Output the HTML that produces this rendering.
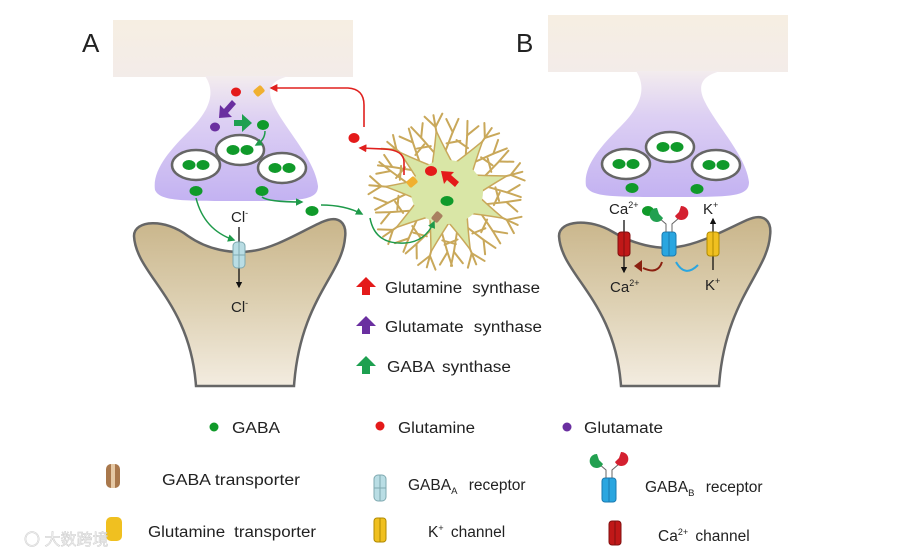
<!DOCTYPE html>
<html><head><meta charset="utf-8"><style>
html,body{margin:0;padding:0;background:#fff;width:900px;height:556px;overflow:hidden}
svg text{font-family:"Liberation Sans",Arial,sans-serif;fill:#222}
</style></head><body>
<svg width="900" height="556" viewBox="0 0 900 556" xmlns="http://www.w3.org/2000/svg">
<defs>
<linearGradient id="top" x1="0" y1="0" x2="0" y2="1"><stop offset="0" stop-color="#f6eee2"/><stop offset="1" stop-color="#f3ece9"/></linearGradient>
<linearGradient id="pur" x1="0" y1="0" x2="0" y2="1"><stop offset="0" stop-color="#f3ecee"/><stop offset="0.35" stop-color="#ddd0f3"/><stop offset="1" stop-color="#c3b2f2"/></linearGradient>
<linearGradient id="post" x1="0" y1="0" x2="0" y2="1"><stop offset="0" stop-color="#c9b58a"/><stop offset="0.5" stop-color="#ddd0b2"/><stop offset="1" stop-color="#f3ece0"/></linearGradient>
<marker id="ar" viewBox="0 0 10 10" refX="8" refY="5" markerWidth="5" markerHeight="5" orient="auto"><path d="M0,0 L10,5 L0,10 z" fill="#e0201e"/></marker>
<marker id="ag" viewBox="0 0 10 10" refX="8" refY="5" markerWidth="5" markerHeight="5" orient="auto"><path d="M0,0 L10,5 L0,10 z" fill="#1e9a4a"/></marker>
<marker id="ak" viewBox="0 0 10 10" refX="8" refY="5" markerWidth="5" markerHeight="5" orient="auto"><path d="M0,0 L10,5 L0,10 z" fill="#111"/></marker>
<g id="arm">
<g stroke="#c9a85a" stroke-width="2" fill="none" stroke-linecap="round">
<path d="M55,0 L78,0"/><path d="M38,-4 L58,-16 L70,-24"/><path d="M38,4 L58,16 L70,24"/>
<path d="M58,-16 L72,-12"/><path d="M58,16 L72,12"/><path d="M66,0 L78,-9"/><path d="M66,0 L78,9"/>
<path d="M48,-8 L48,-22"/><path d="M48,8 L48,22"/></g>
<path d="M20,-13 Q40,-6 62,0 Q40,6 20,13 Z" fill="#d9e6a6" stroke="#c9a85a" stroke-width="1.5"/>
</g>
<g id="ves"><ellipse rx="24" ry="15" fill="#fff" stroke="#666" stroke-width="2.5"/><ellipse cx="-7" rx="6.5" ry="5" fill="#109a2a"/><ellipse cx="7" rx="6.5" ry="5" fill="#109a2a"/></g>
<g id="gaA"><rect x="-6" y="-13" width="12" height="26" rx="4" fill="#b9dde4" stroke="#7fa9b0"/><line x1="0" y1="-13" x2="0" y2="13" stroke="#7fa9b0"/><line x1="-6" y1="0" x2="6" y2="0" stroke="#7fa9b0"/></g>
<g id="chK"><rect x="-6" y="-12" width="12" height="24" rx="3" fill="#f0c020" stroke="#b08a00"/><line x1="0" y1="-12" x2="0" y2="12" stroke="#b08a00"/></g>
<g id="chC"><rect x="-6" y="-12" width="12" height="24" rx="3" fill="#c01818" stroke="#801010"/><line x1="0" y1="-12" x2="0" y2="12" stroke="#801010"/></g>
<g id="gB"><rect x="-7" y="-12" width="14" height="24" rx="3" fill="#2aa6e0" stroke="#1a7ab0"/><line x1="0" y1="-12" x2="0" y2="12" stroke="#1a7ab0"/>
<path d="M-3,-12 L-3,-20 L-10,-26 M3,-12 L3,-20 L10,-26" stroke="#666" fill="none"/>
<path d="M-12,-36 a7,7 0 1 0 6,10 l-4,-4 z" fill="#22a050"/><path d="M12,-38 a7,7 0 1 1 -6,10 l4,-4 z" fill="#d42030"/></g>
</defs>

<text x="82" y="52" font-size="26" style="fill:#222">A</text>
<text x="516" y="52" font-size="26" style="fill:#222">B</text>

<rect x="113" y="20" width="240" height="57" fill="url(#top)"/>
<path d="M205,76 C216,92 210,110 190,130 C170,150 152,170 155,190 C160,201 180,201 240,201 C300,201 318,201 318,186 C315,160 286,130 274,106 C266,90 270,80 290,76 Z" fill="url(#pur)"/>
<rect x="548" y="15" width="240" height="57" fill="url(#top)"/>
<path d="M636,71 C647,88 641,106 621,126 C601,146 583,166 586,186 C591,197 611,197 671,197 C731,197 749,197 749,182 C746,156 717,126 705,102 C697,86 701,76 721,71 Z" fill="url(#pur)"/>

<path d="M134,236 C134,220 165,218 188,236 C208,250 232,254 252,251 C275,248 300,232 322,222 C340,214 347,224 345,238 C342,275 300,300 294,386 L196,386 C190,300 136,275 134,236 Z" fill="url(#post)" stroke="#666" stroke-width="2.5"/>
<path d="M559,236 C559,220 590,218 613,232 C633,244 657,250 677,247 C700,244 725,230 747,220 C765,212 772,222 770,236 C767,273 725,300 719,386 L621,386 C615,300 561,275 559,236 Z" fill="url(#post)" stroke="#666" stroke-width="2.5"/>

<use href="#ves" x="196" y="165"/><use href="#ves" x="240" y="150"/><use href="#ves" x="282" y="168"/>
<use href="#ves" x="626" y="164"/><use href="#ves" x="670" y="147"/><use href="#ves" x="716" y="165"/>

<ellipse cx="236" cy="92" rx="5" ry="4.5" fill="#e41a1a"/>
<rect x="254" y="87" width="10" height="8" rx="2" fill="#f0b030" transform="rotate(-40 259 91)"/>
<path d="M232,100 l-8,9 l-4,-4 l-1,13 l13,-1 l-4,-4 l8,-9 z" fill="#6a2fa0"/>
<ellipse cx="215" cy="127" rx="5" ry="4.5" fill="#6a2fa0"/>
<path d="M234,120 h8 v-6 l10,9 l-10,9 v-6 h-8 z" fill="#1ea050"/>
<ellipse cx="263" cy="125" rx="6" ry="5" fill="#109a2a"/>
<path d="M265,131 Q265,140 256,145" stroke="#1e9a4a" stroke-width="1.5" fill="none" marker-end="url(#ag)"/>
<ellipse cx="196" cy="191" rx="6.5" ry="5" fill="#109a2a"/>
<ellipse cx="262" cy="191" rx="6.5" ry="5" fill="#109a2a"/>
<ellipse cx="312" cy="211" rx="6.5" ry="5" fill="#109a2a"/>
<ellipse cx="354" cy="138" rx="5.5" ry="5" fill="#e41a1a"/>

<ellipse cx="632" cy="188" rx="6.5" ry="5" fill="#109a2a"/>
<ellipse cx="697" cy="189" rx="6.5" ry="5" fill="#109a2a"/>
<ellipse cx="648" cy="211" rx="6" ry="5" fill="#109a2a"/>

<g transform="translate(447,192)">
<use href="#arm" transform="rotate(-100)"/><use href="#arm" transform="rotate(-55)"/><use href="#arm" transform="rotate(-15)"/>
<use href="#arm" transform="rotate(25)"/><use href="#arm" transform="rotate(68)"/><use href="#arm" transform="rotate(105)"/>
<use href="#arm" transform="rotate(145)"/><use href="#arm" transform="rotate(185)"/><use href="#arm" transform="rotate(-140)"/>
<ellipse rx="36" ry="32" fill="#d9e6a6"/>
</g>
<ellipse cx="431" cy="171" rx="6" ry="5" fill="#e41a1a"/>
<path d="M455,187 l-8,-7 l-3,4 l-3,-13 l13,1 l-3,3 l8,7 z" fill="#e41a1a"/>
<ellipse cx="447" cy="201" rx="6.5" ry="5" fill="#109a2a"/>
<rect x="407" y="178" width="10" height="8" rx="2" fill="#f0b030" transform="rotate(-40 412 182)"/>
<rect x="432" y="213" width="10" height="8" rx="2" fill="#a98060" transform="rotate(-50 437 217)"/>

<path d="M364,127 L364,105 Q364,89 348,88 L271,88" stroke="#e0201e" stroke-width="1.6" fill="none" marker-end="url(#ar)"/>
<path d="M404,175 L404,162 Q404,150 384,149 L360,148" stroke="#e0201e" stroke-width="1.6" fill="none" marker-end="url(#ar)"/>
<path d="M196,198 Q204,230 234,240" stroke="#1e9a4a" stroke-width="1.5" fill="none" marker-end="url(#ag)"/>
<path d="M262,197 Q268,202 302,202" stroke="#1e9a4a" stroke-width="1.5" fill="none" marker-end="url(#ag)"/>
<path d="M321,205 Q345,205 362,214" stroke="#1e9a4a" stroke-width="1.5" fill="none" marker-end="url(#ag)"/>
<path d="M370,218 Q375,245 405,243 Q425,242 434,222" stroke="#1e9a4a" stroke-width="1.5" fill="none" marker-end="url(#ag)"/>

<text x="231" y="222" font-size="15">Cl<tspan font-size="9" dy="-6">-</tspan></text>
<line x1="239" y1="227" x2="239" y2="287" stroke="#111" stroke-width="1.3" marker-end="url(#ak)"/>
<use href="#gaA" x="239" y="255"/>
<text x="231" y="312" font-size="15">Cl<tspan font-size="9" dy="-6">-</tspan></text>

<text x="609" y="214" font-size="15">Ca<tspan font-size="9" dy="-6">2+</tspan></text>
<text x="703" y="214" font-size="15">K<tspan font-size="9" dy="-6">+</tspan></text>
<line x1="624" y1="220" x2="624" y2="272" stroke="#111" stroke-width="1.3" marker-end="url(#ak)"/>
<use href="#chC" x="624" y="244"/>
<use href="#gB" x="669" y="244"/>
<line x1="713" y1="270" x2="713" y2="219" stroke="#111" stroke-width="1.3" marker-end="url(#ak)"/>
<use href="#chK" x="713" y="244"/>
<path d="M662,262 Q658,275 643,268" stroke="#8b2010" stroke-width="2" fill="none"/>
<path d="M634,266 l8,-6 l0,12 z" fill="#8b2010"/>
<path d="M676,262 Q685,278 698,265" stroke="#2aa6e0" stroke-width="2" fill="none"/>
<text x="610" y="292" font-size="15">Ca<tspan font-size="9" dy="-6">2+</tspan></text>
<text x="705" y="290" font-size="15">K<tspan font-size="9" dy="-6">+</tspan></text>

<path d="M366,277 l-10,10 h6 v8 h8 v-8 h6 z" fill="#e41a1a"/>
<text x="385" y="293" font-size="15.5" word-spacing="5" textLength="155" lengthAdjust="spacingAndGlyphs">Glutamine synthase</text>
<path d="M366,316 l-10,10 h6 v8 h8 v-8 h6 z" fill="#6a2fa0"/>
<text x="385" y="332" font-size="15.5" word-spacing="5" textLength="157" lengthAdjust="spacingAndGlyphs">Glutamate synthase</text>
<path d="M366,356 l-10,10 h6 v8 h8 v-8 h6 z" fill="#1ea050"/>
<text x="387" y="372" font-size="15.5" word-spacing="3" textLength="124" lengthAdjust="spacingAndGlyphs">GABA synthase</text>

<circle cx="214" cy="427" r="4.5" fill="#109a2a"/><text x="232" y="433" font-size="15.5" textLength="48" lengthAdjust="spacingAndGlyphs">GABA</text>
<circle cx="380" cy="426" r="4.5" fill="#e41a1a"/><text x="398" y="433" font-size="15.5" textLength="77" lengthAdjust="spacingAndGlyphs">Glutamine</text>
<circle cx="567" cy="427" r="4.5" fill="#6a2fa0"/><text x="584" y="433" font-size="15.5" textLength="79" lengthAdjust="spacingAndGlyphs">Glutamate</text>

<rect x="106" y="464" width="14" height="24" rx="5" fill="#a9784c"/><rect x="111" y="464" width="4" height="24" fill="#e5c8a4"/>
<text x="162" y="485" font-size="15.5" textLength="138" lengthAdjust="spacingAndGlyphs">GABA transporter</text>
<use href="#gaA" x="380" y="488"/>
<text x="408" y="490" font-size="15.5" word-spacing="7">GABA<tspan font-size="9.5" dy="4">A</tspan><tspan dy="-4"> receptor</tspan></text>
<use href="#gB" x="609" y="490"/>
<text x="645" y="492" font-size="15.5" word-spacing="7">GABA<tspan font-size="9.5" dy="4">B</tspan><tspan dy="-4"> receptor</tspan></text>

<rect x="106" y="517" width="16" height="24" rx="5" fill="#f0c020"/>
<text x="148" y="537" font-size="15.5" word-spacing="4" textLength="168" lengthAdjust="spacingAndGlyphs">Glutamine transporter</text>
<use href="#chK" x="380" y="530"/>
<text x="428" y="537" font-size="15.5" word-spacing="3">K<tspan font-size="9" dy="-6">+</tspan><tspan dy="6"> channel</tspan></text>
<use href="#chC" x="615" y="533"/>
<text x="658" y="541" font-size="15.5" word-spacing="3">Ca<tspan font-size="9" dy="-6">2+</tspan><tspan dy="6"> channel</tspan></text>

<text x="24" y="545" font-size="16" style="fill:#f4f4f4;stroke:#ccc;stroke-width:0.5">〇 大数跨境</text>
</svg>
</body></html>
